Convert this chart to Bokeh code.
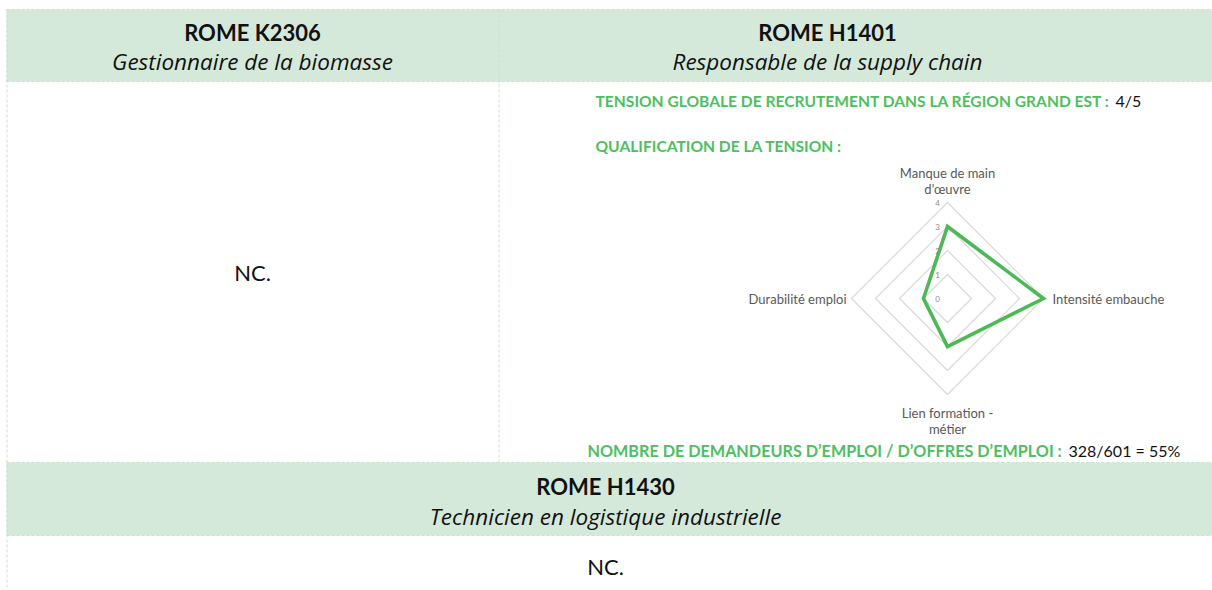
import numpy as np
from bokeh.plotting import figure
from bokeh.models import Range1d, ColumnDataSource
from bokeh.core.properties import value
from bokeh.embed import file_html
from bokeh.resources import INLINE

# ---------------- data ----------------
header_codes = ["ROME K2306", "ROME H1401", "ROME H1430"]
header_titles = ["Gestionnaire de la biomasse", "Responsable de la supply chain",
                 "Technicien en logistique industrielle"]
nc_text = "NC."
tension_label = "TENSION GLOBALE DE RECRUTEMENT DANS LA RÉGION GRAND EST :"
tension_value = "4/5"
qualif_label = "QUALIFICATION DE LA TENSION :"
demand_label = "NOMBRE DE DEMANDEURS D’EMPLOI / D’OFFRES D’EMPLOI :"
demand_value = "328/601 = 55%"
radar_categories = ["Manque de main\nd'œuvre", "Intensité embauche",
                    "Lien formation -\nmétier", "Durabilité emploi"]
radar_values = [3, 4, 2, 1]
radar_ticks = [0, 1, 2, 3, 4]

# ---------------- layout constants (page pixels) ----------------
W, H = 1212, 590
FONT = "Lato"
IFONT = "Open Sans"
GREEN_TXT = "#4DBF61"
GREEN_LINE = "#4CB956"
HEAD_FILL = "#D5E9DA"
BORDER = "#C9E2CD"

p = figure(width=W, height=H, x_range=Range1d(0, W), y_range=Range1d(H, 0),
           output_backend="svg", toolbar_location=None, min_border=0,
           x_axis_type=None, y_axis_type=None)
p.grid.visible = False
p.outline_line_color = None
p.background_fill_color = "white"
p.border_fill_color = "white"

# header bands
p.quad(left=[6, 6], right=[1212, 1212], top=[9, 462], bottom=[81, 535],
       fill_color=HEAD_FILL, line_color=None)

# dashed borders
for y in [9, 81, 462, 535]:
    p.line([6, 1212], [y, y], line_color=BORDER, line_dash="3 2", line_width=1)
p.line([6.5, 6.5], [9, 590], line_color=BORDER, line_dash="3 2", line_width=1)
p.line([498.5, 498.5], [9, 462], line_color=BORDER, line_dash="3 2", line_width=1)

# header texts
hsrc = ColumnDataSource(dict(x=[252, 827, 605], y=[32, 32, 486], t=header_codes))
p.text(x="x", y="y", text="t", source=hsrc, text_font=value(FONT), text_font_style="bold",
       text_font_size="22px", text_align="center", text_baseline="middle", text_color="#111111")
ssrc = ColumnDataSource(dict(x=[252, 827, 605], y=[61, 61, 516], t=header_titles))
p.text(x="x", y="y", text="t", source=ssrc, text_font=value(IFONT), text_font_style="italic",
       text_font_size="22.5px", text_align="center", text_baseline="middle", text_color="#111111")

# NC texts
p.text(x=[252, 605], y=[272, 566], text=[nc_text, nc_text], text_font=value(FONT),
       text_font_size="22px", text_align="center", text_baseline="middle", text_color="#111111")

# green labels
p.text(x=[595, 595], y=[100, 145], text=[tension_label, qualif_label],
       text_font=value(FONT), text_font_style="bold", text_font_size="15.6px",
       text_align="left", text_baseline="middle", text_color=GREEN_TXT)
p.text(x=[587], y=[450], text=[demand_label],
       text_font=value(FONT), text_font_style="bold", text_font_size="16.2px",
       text_align="left", text_baseline="middle", text_color=GREEN_TXT)
p.text(x=[1115, 1068], y=[100, 450], text=[tension_value, demand_value],
       text_font=value(FONT), text_font_size="16px",
       text_align="left", text_baseline="middle", text_color="#111111")

# ---------------- radar ----------------
CX, CY, S = 947, 298, 24.0  # centre and pixels per unit
p.extra_x_ranges = {"rx": Range1d((0 - CX) / S, (W - CX) / S)}
p.extra_y_ranges = {"ry": Range1d((CY - H) / S, (CY - 0) / S)}

n = len(radar_categories)
theta = np.arange(n) * 2 * np.pi / n
sx, sy = np.sin(theta), np.cos(theta)
rmax = max(radar_ticks)

for r in radar_ticks[1:]:
    p.patch(list(r * sx), list(r * sy), fill_color=None, line_color="#D9D9D9", line_width=1.2,
            x_range_name="rx", y_range_name="ry")

vals = np.array(radar_values, dtype=float)
p.patch(list(vals * sx), list(vals * sy), fill_color=None, line_color=GREEN_LINE, line_width=3.6,
        line_join="miter", x_range_name="rx", y_range_name="ry")

p.text(x=[0] * len(radar_ticks), y=radar_ticks, text=[str(t) for t in radar_ticks],
       x_offset=-10, text_font=value(FONT), text_font_size="8px", text_color="#8C8C8C",
       text_align="center", text_baseline="middle", x_range_name="rx", y_range_name="ry")

pads = [5, 9, 10, 5]
aligns = ["center", "left", "center", "right"]
baselines = ["bottom", "middle", "top", "middle"]
for i in range(n):
    rr = rmax + pads[i] / S
    p.text(x=[rr * sx[i]], y=[rr * sy[i]], text=[radar_categories[i]],
           text_font=value(FONT), text_font_size="13px", text_color="#595959",
           text_align=aligns[i], text_baseline=baselines[i], text_line_height=1.05,
           x_range_name="rx", y_range_name="ry")

open("out.html", "w").write(file_html(p, INLINE))
